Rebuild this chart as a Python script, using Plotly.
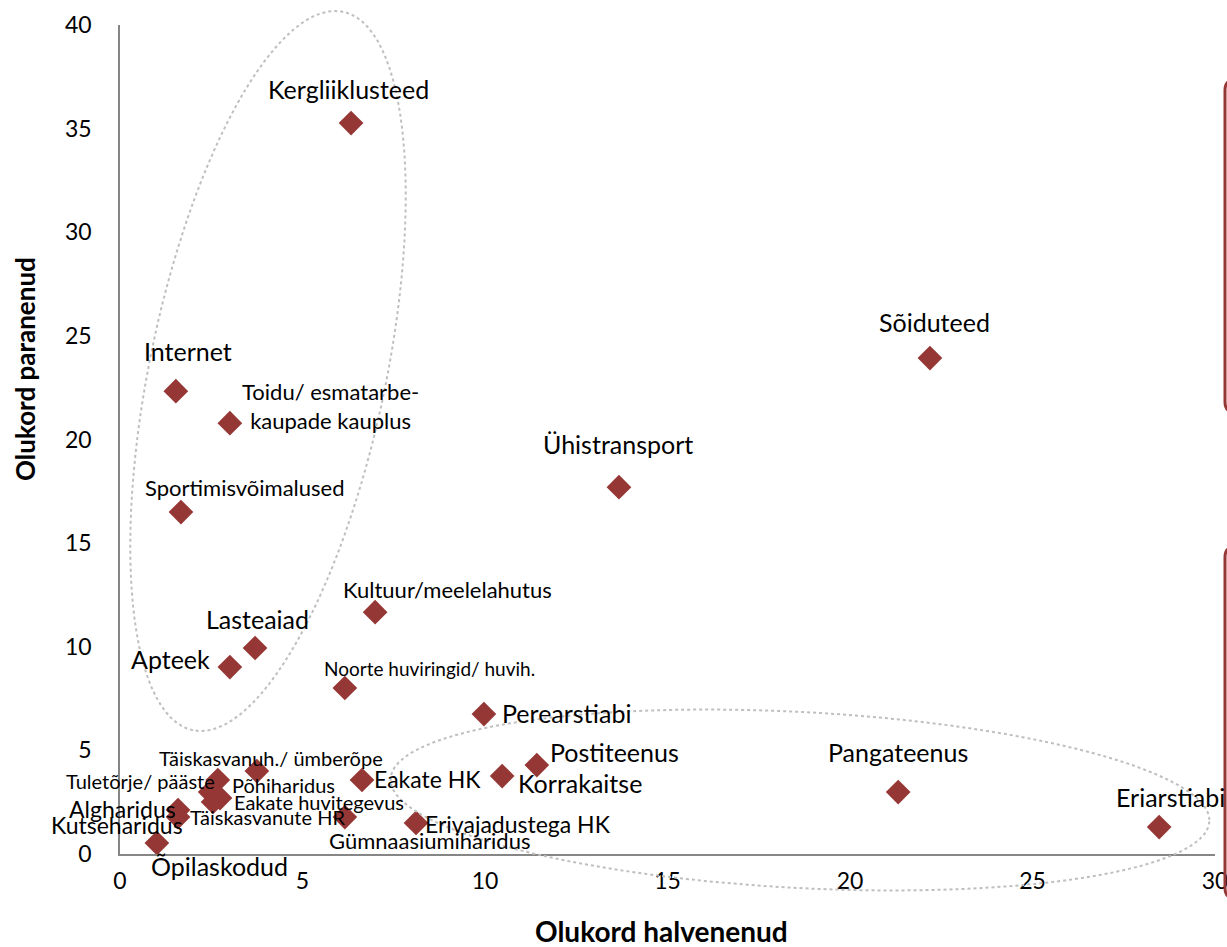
import numpy as np
import plotly.graph_objects as go

# ---------------- data ----------------
names = [
    "Kergliiklusteed", "Sõiduteed", "Internet", "Toidu/ esmatarbe-<br>kaupade kauplus",
    "Ühistransport", "Sportimisvõimalused", "Kultuur/meelelahutus", "Lasteaiad", "Apteek",
    "Noorte huviringid/ huvih.", "Perearstiabi", "Postiteenus", "Korrakaitse", "Pangateenus",
    "Eriarstiabi", "Erivajadustega HK", "Gümnaasiumiharidus", "Eakate HK",
    "Täiskasvanuh./ ümberõpe", "Tuletõrje/ pääste", "Põhiharidus", "Eakate huvitegevus",
    "Täiskasvanute HR", "Algharidus", "Kutseharidus", "Õpilaskodud",
]
halvenenud = [6.33, 22.19, 1.53, 3.01, 13.67, 1.67, 6.99, 3.70, 3.01, 6.16, 9.97, 11.42, 10.47,
              21.32, 28.47, 8.11, 6.16, 6.63, 3.75, 2.68, 2.47, 2.74, 2.55, 1.59, 1.59, 1.01]
paranenud = [35.27, 23.93, 22.33, 20.79, 17.70, 16.5, 11.67, 9.94, 9.02, 8.01, 6.75, 4.29, 3.76,
             2.99, 1.30, 1.50, 1.78, 3.57, 4.0, 3.57, 2.99, 2.70, 2.51, 2.12, 1.78, 0.53]

x_ticks = [0, 5, 10, 15, 20, 25, 30]
y_ticks = [0, 5, 10, 15, 20, 25, 30, 35, 40]

# ---------------- label styling (anchor, xshift px, yshift px, font size) ----------------
label_style = [
    ("center", -3, 34, 25), ("center", 5, 36, 25), ("center", 12, 40, 25), ("left", 10, 17, 22),
    ("center", -1, 43, 25), ("center", 64, 25, 22), ("center", 72, 23, 22), ("center", 2, 29, 25),
    ("right", -18, 8, 25), ("left", -23, 19, 19), ("left", 16, 1, 25), ("left", 11, 13, 25),
    ("left", 14, -7, 25), ("center", 0, 40, 25), ("center", 11, 30, 25), ("left", 7, -1, 23),
    ("center", 85, -23, 22), ("left", 10, 1, 23), ("center", 14, 13, 20), ("right", -1, -1, 20),
    ("left", 20, 7, 20), ("left", 12, -4, 20), ("left", -25, -15, 20), ("right", 0, 1, 23),
    ("right", 7, -8, 23), ("center", 63, -23, 25),
]

W, H = 1227, 947
L, R, T, B = 120, 12, 25, 93
PW, PH = W - L - R, H - T - B
FONT = "Lato"
MARK = "#953735"

fig = go.Figure()
fig.add_trace(go.Scatter(
    x=halvenenud, y=paranenud, mode="markers",
    marker=dict(symbol="diamond", size=19, color=MARK),
    hovertext=names, showlegend=False,
))

annotations = []
for n, xv, yv, (anc, dx, dy, fs) in zip(names, halvenenud, paranenud, label_style):
    annotations.append(dict(
        x=xv, y=yv, xref="x", yref="y", text=n, showarrow=False,
        xanchor=anc, yanchor="middle", xshift=dx, yshift=dy, align="center",
        font=dict(family=FONT, size=fs, color="#000000"),
    ))

# axis titles
annotations.append(dict(x=(661 - L) / PW, y=(H - B - 931) / PH, xref="paper", yref="paper",
                        text="<b>Olukord halvenenud</b>", showarrow=False,
                        xanchor="center", yanchor="middle",
                        font=dict(family=FONT, size=28, color="#000000")))
annotations.append(dict(x=(25 - L) / PW, y=(H - B - 369) / PH, xref="paper", yref="paper",
                        text="<b>Olukord paranenud</b>", showarrow=False, textangle=-90,
                        xanchor="center", yanchor="middle",
                        font=dict(family=FONT, size=26, color="#000000")))


def px2paper(px, py):
    return (px - L) / PW, (H - B - py) / PH


def ellipse_path(cx, cy, a, b, ang_deg, n=120):
    t = np.linspace(0, 2 * np.pi, n)
    ang = np.deg2rad(ang_deg)
    xs = cx + a * np.cos(t) * np.cos(ang) - b * np.sin(t) * np.sin(ang)
    ys = cy + a * np.cos(t) * np.sin(ang) + b * np.sin(t) * np.cos(ang)
    pts = [px2paper(u, v) for u, v in zip(xs, ys)]
    return "M " + " L ".join(f"{u:.5f},{v:.5f}" for u, v in pts) + " Z"


def rounded_edge(px, top, bottom, r=10, ext=40):
    p = [px2paper(px + ext, top), px2paper(px + r, top), px2paper(px, top),
         px2paper(px, top + r), px2paper(px, bottom - r), px2paper(px, bottom),
         px2paper(px + r, bottom), px2paper(px + ext, bottom)]
    f = lambda q: f"{q[0]:.5f},{q[1]:.5f}"
    return (f"M {f(p[0])} L {f(p[1])} Q {f(p[2])} {f(p[3])} L {f(p[4])} "
            f"Q {f(p[5])} {f(p[6])} L {f(p[7])}")


shapes = [
    dict(type="path", xref="paper", yref="paper",
         path=ellipse_path(268, 371, 367, 118, 90 + 11.8),
         line=dict(color="#bfbfbf", width=2, dash="dot")),
    dict(type="path", xref="paper", yref="paper",
         path=ellipse_path(800, 800, 410, 88, 3),
         line=dict(color="#bfbfbf", width=2, dash="dot")),
    dict(type="path", xref="paper", yref="paper", path=rounded_edge(1225, 80, 412),
         line=dict(color=MARK, width=3)),
    dict(type="path", xref="paper", yref="paper", path=rounded_edge(1225, 547, 898),
         line=dict(color=MARK, width=3)),
]

fig.update_layout(
    width=W, height=H, margin=dict(l=L, r=R, t=T, b=B, autoexpand=False),
    paper_bgcolor="white", plot_bgcolor="white",
    annotations=annotations, shapes=shapes,
    font=dict(family=FONT, size=20, color="#000000"),
)
fig.update_xaxes(range=[0, 30], tickvals=x_ticks, showgrid=False, zeroline=False,
                 showline=True, linecolor="#868686", linewidth=1.5, ticks="",
                 tickfont=dict(family=FONT, size=23), ticklabelstandoff=6,
                 ticklabeloverflow="allow", automargin=False)
fig.update_yaxes(range=[0, 40], tickvals=y_ticks, showgrid=False, zeroline=False,
                 showline=True, linecolor="#868686", linewidth=1.5, ticks="",
                 tickfont=dict(family=FONT, size=23), ticklabelstandoff=22,
                 ticklabeloverflow="allow", automargin=False)

fig.write_html("out.html", config={"displayModeBar": False},
               post_script="document.body.style.margin='0';document.body.style.overflow='hidden';")
